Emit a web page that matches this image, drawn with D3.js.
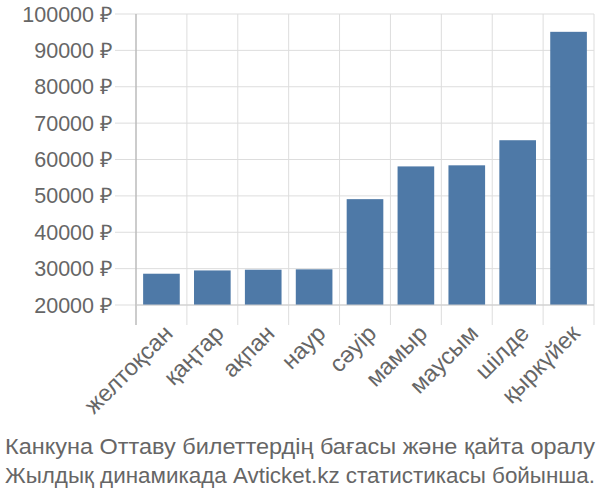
<!DOCTYPE html>
<html>
<head>
<meta charset="utf-8">
<script src="https://cdn.jsdelivr.net/npm/d3@7"></script>
<style>
  body { margin: 0; background: #fff; }
  svg { display: block; font-family: "Liberation Sans", Arial, sans-serif; }
</style>
</head>
<body>
<svg id="chart" width="600" height="500"></svg>
<script>
const categories = ["желтоқсан", "қаңтар", "ақпан", "наур", "сәуір", "мамыр", "маусым", "шілде", "қыркүйек"];
const values = [28600, 29500, 29700, 29800, 49100, 58100, 58400, 65300, 95100];
const yTicks = [20000, 30000, 40000, 50000, 60000, 70000, 80000, 90000, 100000];
const titleLines = ["Канкуна Оттаву билеттердің бағасы және қайта оралу", "Жылдық динамикада Avticket.kz статистикасы бойынша."];

const svg = d3.select("#chart");
const mLeft = 136, mRight = 594, mTop = 14, mBottom = 305;

const x = d3.scaleBand().domain(categories).range([mLeft, mRight]).paddingInner(0.28).paddingOuter(0.14);
const y = d3.scaleLinear().domain([20000, 100000]).range([mBottom, mTop]);
const step = x.step();

// horizontal grid + left ticks
svg.append("g").selectAll("line").data(yTicks).join("line")
  .attr("x1", mLeft - 21).attr("x2", mRight)
  .attr("y1", d => y(d)).attr("y2", d => y(d))
  .attr("stroke", "#dddddd").attr("stroke-width", 1);

// vertical grid at category boundaries, extending below axis as ticks
const bounds = d3.range(categories.length + 1).map(i => mLeft + i * step);
svg.append("g").selectAll("line").data(bounds).join("line")
  .attr("x1", d => d).attr("x2", d => d)
  .attr("y1", mTop).attr("y2", mBottom + 20)
  .attr("stroke", "#dddddd").attr("stroke-width", 1);

// bars
svg.append("g").selectAll("rect").data(values).join("rect")
  .attr("x", (d, i) => x(categories[i]))
  .attr("width", x.bandwidth())
  .attr("y", d => y(d))
  .attr("height", d => y(20000) - y(d))
  .attr("fill", "#4e79a7");

// axis lines
svg.append("line").attr("x1", mLeft).attr("x2", mLeft).attr("y1", mTop).attr("y2", mBottom + 20)
  .attr("stroke", "#aaaaaa").attr("stroke-width", 1);
svg.append("line").attr("x1", mLeft).attr("x2", mRight).attr("y1", mBottom).attr("y2", mBottom)
  .attr("stroke", "#cccccc").attr("stroke-width", 1);

// y labels
svg.append("g").selectAll("text").data(yTicks).join("text")
  .attr("x", mLeft - 23).attr("y", d => y(d))
  .attr("dy", "0.35em")
  .attr("text-anchor", "end")
  .attr("fill", "#666666")
  .attr("font-size", 21.5)
  .text(d => d + " ₽");

// x labels
svg.append("g").selectAll("text").data(categories).join("text")
  .attr("transform", d => `translate(${x(d) + x.bandwidth() / 2 + 7},${mBottom + 24}) rotate(-45)`)
  .attr("text-anchor", "end")
  .attr("dy", "0.35em")
  .attr("fill", "#666666")
  .attr("font-size", 23.5)
  .text(d => d);

// title
svg.append("g").selectAll("text").data(titleLines).join("text")
  .attr("x", 300).attr("y", (d, i) => 454 + i * 29)
  .attr("text-anchor", "middle")
  .attr("fill", "#666666")
  .attr("font-size", 22.5)
  .attr("textLength", 590)
  .attr("lengthAdjust", "spacingAndGlyphs")
  .text(d => d);
</script>
</body>
</html>
